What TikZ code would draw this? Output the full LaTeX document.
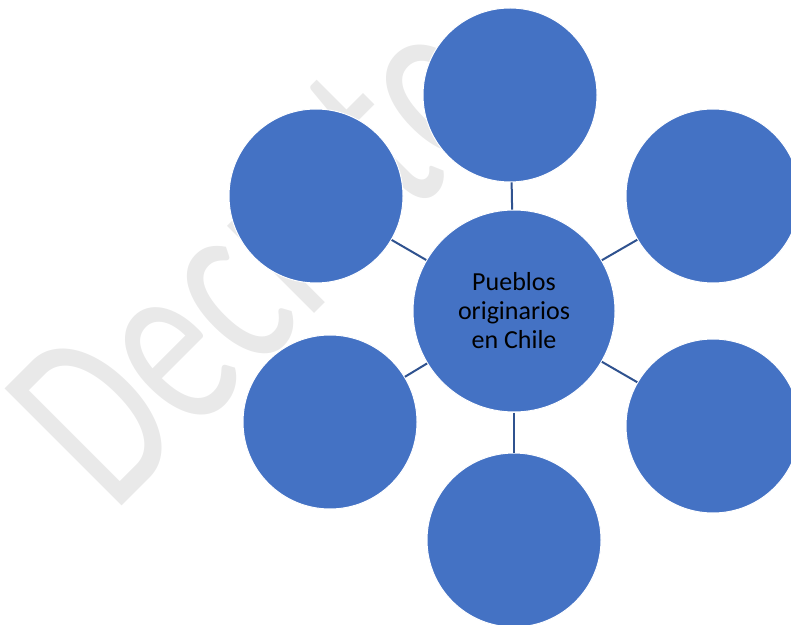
\documentclass[tikz,border=0pt]{standalone}
\usepackage{fontspec}
\setmainfont{Carlito}
\definecolor{bubbleblue}{HTML}{4472C4}
\definecolor{spokeblue}{HTML}{2F528F}
\definecolor{markgray}{HTML}{E9E9E9}

\begin{document}
\begin{tikzpicture}[
	x=1pt, y=1pt,
	bubble/.style = {circle, fill=bubbleblue, draw=white, line width=1pt,
		minimum size=174pt, inner sep=0pt},
	hub/.style = {bubble, minimum size=202pt, align=center,
		font=\fontsize{26}{29}\selectfont},
	spoke/.style = {draw=spokeblue, line width=2pt},
	watermark/.style = {text=markgray, anchor=base west, inner sep=0pt,
		rotate=45, xscale=0.69, font=\fontsize{258}{258}\selectfont}
]

\useasboundingbox (0,0) rectangle (791,624);

% faint background stamp
\node[watermark] (mark) at (113,109) {Decreto};

\node[hub] (hub) at (514,313) {Pueblos\\originarios\\en Chile};

\node[bubble] (top)    at (510,529) {};
\node[bubble] (upleft) at (316,428) {};
\node[bubble] (upright) at (713,428) {};
\node[bubble] (lowleft) at (330,202) {};
\node[bubble] (lowright) at (713,198) {};
\node[bubble] (bottom) at (514,84) {};

\foreach \sat in {top, upleft, upright, lowleft, lowright, bottom}
	\draw[spoke] (hub) -- (\sat);

\end{tikzpicture}
\end{document}
